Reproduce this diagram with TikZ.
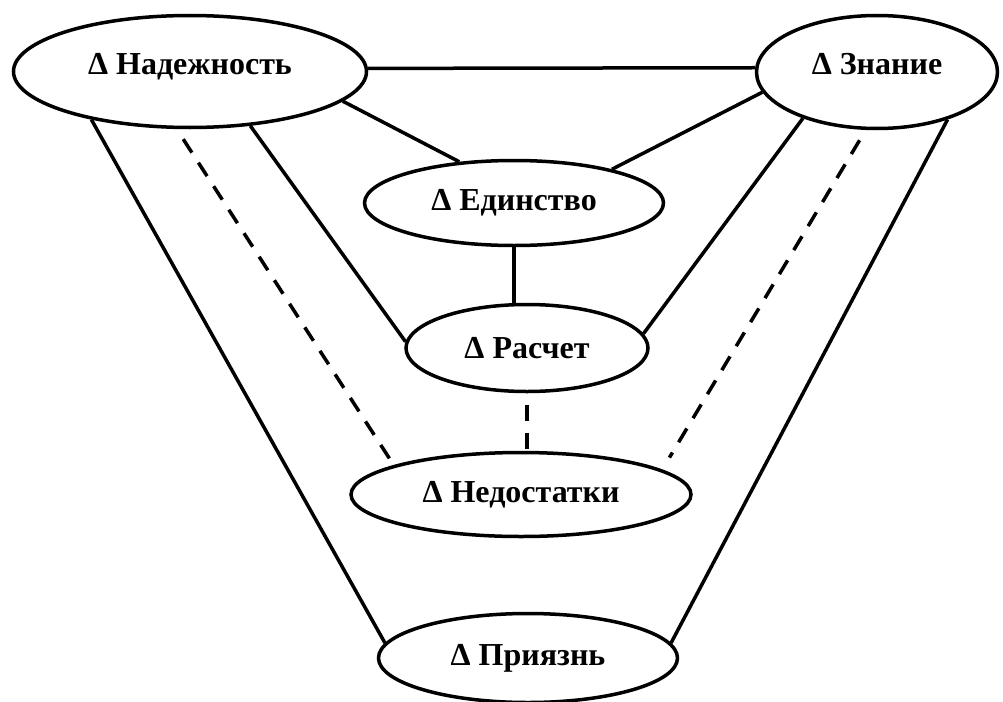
\documentclass[tikz,border=0pt]{standalone}
\usepackage{fontspec}
\setmainfont{Liberation Serif}
\usetikzlibrary{shapes.geometric}
\begin{document}
\begin{tikzpicture}[x=1pt,y=-1pt,line width=3.5pt,
    every node/.style={draw,ellipse,inner sep=0pt,
      font=\fontsize{32}{38}\selectfont\bfseries},
    topbox/.style={text depth=16pt},
    weak/.style={dash pattern=on 16pt off 12pt,dash phase=16pt}]
      \useasboundingbox (0,0) rectangle (1003,701);
      \draw
        (190,71.5) node[minimum width=353pt,minimum height=112pt,topbox] (nad){Δ Надежность}
        (877,72) node[minimum width=241pt,minimum height=113pt,topbox] (zna){Δ Знание}
        (514,203) node[minimum width=299pt,minimum height=85pt] (edi){Δ Единство}
        (527,348) node[minimum width=242pt,minimum height=87pt] (ras){Δ Расчет}
        (521,494.5) node[minimum width=340pt,minimum height=84pt] (ned){Δ Недостатки}
        (528,658) node[minimum width=299pt,minimum height=89pt] (pri){Δ Приязнь};
      \begin{scope}[-]
        \draw (nad.1) to (zna.178);
        \draw (nad.-11) to (edi.143);
        \draw (zna.-170) to (edi.19);
        \draw (edi.south) to (edi.south |- ras.north);
        \draw (nad.-42) to (ras.177);
        \draw (zna.-148) to (ras.7);
        \draw (nad.-154) to (pri.174);
        \draw (zna.-34) to (pri.6);
        \draw[weak] (nad.-103) to (ned.167);
        \draw[weak,shorten >=14pt] (zna.-101) to (ned.10);
        \draw[weak] (ras.south) to (ras.south |- ned.north);
      \end{scope}
    \end{tikzpicture}
\end{document}
